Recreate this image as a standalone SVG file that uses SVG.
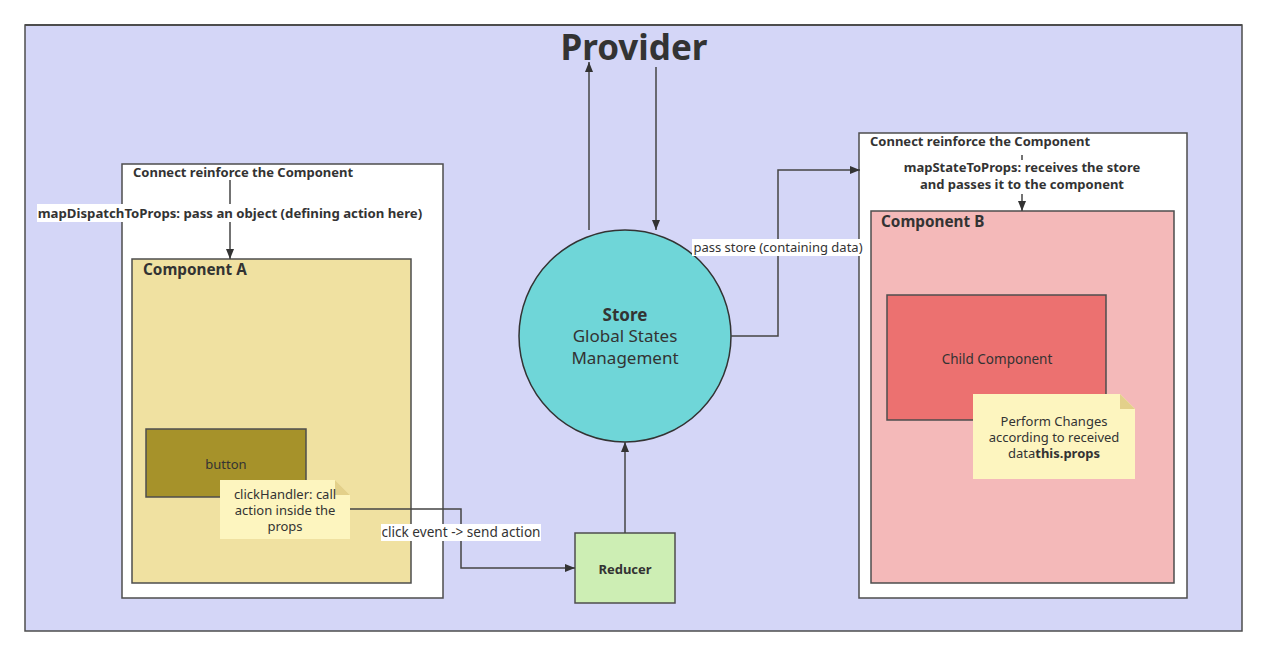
<svg xmlns="http://www.w3.org/2000/svg" width="1266" height="656" viewBox="0 0 1266 656">
<defs>
<marker id="ah" viewBox="0 0 10 10" refX="10" refY="5" markerWidth="10" markerHeight="10" markerUnits="userSpaceOnUse" orient="auto">
<path d="M0,1 L10,5 L0,9 Z" fill="#333"/>
</marker>
<style>
text{font-family:"Noto Sans","Open Sans","Liberation Sans",sans-serif;fill:#333;}
.b{font-weight:bold;}
.box{stroke:#4d4d4d;stroke-width:1.5;}
.ln{fill:none;stroke:#444;stroke-width:1.5;}
.lbl{fill:#fff;}
.note{fill:#fdf5bf;}
.fold{fill:#e3d08a;}
</style>
</defs>
<rect width="1266" height="656" fill="#fff"/>
<g id="provider">
<rect x="25" y="25" width="1217" height="606" fill="#d4d6f7" class="box"/>
<line x1="25" y1="25" x2="1242" y2="25" stroke="#4d4d4d" stroke-width="2"/>
<text x="634" y="60" font-size="35" text-anchor="middle" class="b">Provider</text>
</g>
<g id="connect-left">
<rect x="122" y="164" width="321" height="434" fill="#fff" class="box"/>
<text x="133" y="177" font-size="13" class="b">Connect reinforce the Component</text>
</g>
<g id="component-a">
<rect x="132" y="259" width="279" height="324" fill="#f0e1a1" class="box"/>
<text x="143" y="275" font-size="15.3" class="b">Component A</text>
</g>
<g id="button">
<rect x="146" y="429" width="160" height="68" fill="#a6922a" class="box"/>
<text x="226" y="469" font-size="13" text-anchor="middle">button</text>
</g>
<g id="note-click">
<path d="M220,480 H335 L350,495 V539 H220 Z" class="note"/>
<path d="M335,480 L350,495 H335 Z" class="fold"/>
<text x="285" y="499" font-size="13" text-anchor="middle">clickHandler: call</text>
<text x="285" y="515" font-size="13" text-anchor="middle">action inside the</text>
<text x="285" y="531" font-size="13" text-anchor="middle">props</text>
</g>
<g id="store">
<circle cx="625" cy="336" r="106" fill="#6fd6d8" stroke="#333" stroke-width="1.5"/>
<text x="625" y="321" font-size="17" text-anchor="middle" class="b">Store</text>
<text x="625" y="342" font-size="17" text-anchor="middle">Global States</text>
<text x="625" y="364" font-size="17" text-anchor="middle">Management</text>
</g>
<g id="reducer">
<rect x="575" y="533" width="100" height="70" fill="#cdeeb4" class="box"/>
<text x="625" y="574" font-size="13" text-anchor="middle" class="b">Reducer</text>
</g>
<g id="connect-right">
<rect x="859" y="133" width="328" height="465" fill="#fff" class="box"/>
<text x="870" y="146" font-size="13" class="b">Connect reinforce the Component</text>
</g>
<g id="component-b">
<rect x="871" y="211" width="303" height="372" fill="#f4b9b9" class="box"/>
<text x="881" y="227" font-size="15.3" class="b">Component B</text>
</g>
<g id="child-component">
<rect x="887" y="295" width="219" height="125" fill="#ec7170" class="box"/>
<text x="997" y="364" font-size="13.5" text-anchor="middle">Child Component</text>
</g>
<g id="note-perform">
<path d="M973,394 H1120 L1135,409 V479 H973 Z" class="note"/>
<path d="M1120,394 L1135,409 H1120 Z" class="fold"/>
<text x="1054" y="426" font-size="13" text-anchor="middle">Perform Changes</text>
<text x="1054" y="442" font-size="13" text-anchor="middle">according to received</text>
<text x="1054" y="458" font-size="13" text-anchor="middle">data<tspan class="b">this.props</tspan></text>
</g>
<g id="connectors">
<path d="M589,230 V62" class="ln" marker-end="url(#ah)"/>
<path d="M656,67 V230" class="ln" marker-end="url(#ah)"/>
<path d="M230,180 V259" class="ln" marker-end="url(#ah)"/>
<rect x="37" y="204" width="386" height="18" class="lbl"/>
<text x="230" y="218" font-size="13.2" text-anchor="middle" class="b">mapDispatchToProps: pass an object (defining action here)</text>
<path d="M350,509 H461 V568 H575" class="ln" marker-end="url(#ah)"/>
<rect x="381" y="524" width="160" height="17" class="lbl"/>
<text x="461" y="537" font-size="13.6" text-anchor="middle">click event -&gt; send action</text>
<path d="M625,533 V442" class="ln" marker-end="url(#ah)"/>
<path d="M731,336 H778 V170 H860" class="ln" marker-end="url(#ah)"/>
<rect x="692" y="239" width="171" height="17" class="lbl"/>
<text x="778" y="252" font-size="13" text-anchor="middle">pass store (containing data)</text>
<path d="M1022,155 V160" class="ln"/>
<text x="1022" y="172" font-size="13" text-anchor="middle" class="b">mapStateToProps: receives the store</text>
<text x="1022" y="189" font-size="13" text-anchor="middle" class="b">and passes it to the component</text>
<path d="M1022,194 V211" class="ln" marker-end="url(#ah)"/>
</g>
</svg>
